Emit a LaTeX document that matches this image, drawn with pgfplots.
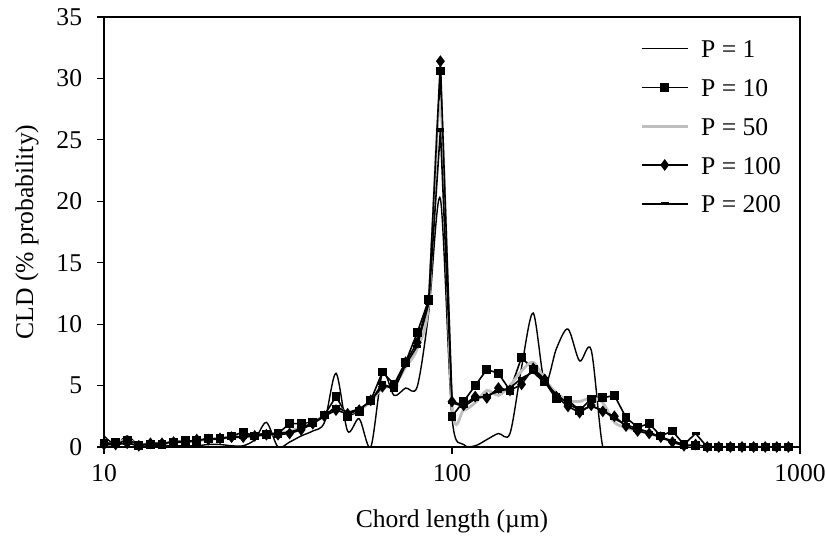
\documentclass[border=0pt]{standalone}
\usepackage{fontspec}
\setmainfont{Liberation Serif}
\usepackage{pgfplots}
\usepackage{pgfplotstable}
\pgfplotsset{compat=1.18}

\pgfplotstableread{
x       p1    p10   p50   p100  p200
10.000  0.9   0.3   0.2   0.2   0.3
10.798  0.2   0.4   0.3   0.2   0.2
11.659  0.9   0.5   0.6   0.3   0.6
12.589  0.1   0.1   0.2   0.1   0.2
13.594  0.1   0.2   0.3   0.3   0.2
14.678  0.1   0.2   0.3   0.3   0.2
15.849  0.1   0.4   0.4   0.4   0.5
17.113  0.1   0.5   0.4   0.4   0.4
18.478  0.1   0.5   0.5   0.6   0.5
19.953  0.2   0.7   0.6   0.6   0.7
21.544  0.2   0.7   0.7   0.7   0.6
23.263  0.1   0.9   0.8   0.8   0.9
25.119  0.1   1.2   0.8   0.8   0.8
27.123  0.6   0.9   0.9   0.9   1.0
29.286  2.0   1.0   1.0   1.0   1.1
31.623  0.0   1.1   1.1   1.0   1.1
34.146  0.4   1.9   1.3   1.1   1.2
36.869  0.9   1.9   1.6   1.4   1.5
39.811  1.3   2.0   2.0   1.9   2.0
42.987  2.0   2.6   2.5   2.5   2.5
46.416  6.0   4.1   3.2   3.0   3.3
50.119  1.3   2.5   2.8   2.7   2.8
54.117  2.3   2.9   3.0   3.0   3.1
58.434  0.0   3.8   3.7   3.8   3.7
63.096  6.0   6.1   4.8   4.9   5.2
68.129  4.2   5.1   5.0   5.0   4.6
73.564  4.8   6.9   6.5   6.9   6.7
79.433  4.9   9.3   8.0   8.5   8.2
85.770  11.0  12.0  11.8  12.0  11.7
92.612  20.2  30.6  28.0  31.4  25.8
100.00  2.4   2.5   3.5   3.7   3.6
107.98  0.2   3.7   3.0   3.4   3.3
116.59  0.1   5.0   3.6   4.1   3.9
125.89  0.6   6.3   4.6   4.0   4.2
135.94  1.1   6.0   4.2   4.8   4.5
146.78  1.1   4.6   5.0   4.6   4.8
158.49  6.5   7.3   6.2   5.1   5.6
171.13  10.9  6.3   6.9   6.4   6.1
184.78  5.2   5.3   5.5   5.5   5.2
199.53  8.0   3.9   4.4   4.1   4.3
215.44  9.6   3.8   3.8   3.3   3.5
232.63  7.0   3.0   3.7   2.8   3.0
251.19  7.9   3.9   4.0   3.4   3.3
271.23  0.0   4.0   3.6   2.9   3.0
292.86  0.0   4.2   2.0   2.5   2.3
316.23  0.0   2.4   1.6   1.7   1.8
341.46  0.0   1.6   1.3   1.3   1.5
368.69  0.0   1.9   1.1   1.1   1.2
398.11  0.0   0.9   0.8   0.8   0.8
429.87  0.0   1.3   0.4   0.4   0.5
464.16  0.0   0.2   0.2   0.1   0.2
501.19  0.0   0.1   0.1   0.2   1.1
541.17  0.0   0.0   0.0   0.0   0.0
584.34  0.0   0.0   0.0   0.0   0.0
630.96  0.0   0.0   0.0   0.0   0.0
681.29  0.0   0.0   0.0   0.0   0.0
735.64  0.0   0.0   0.0   0.0   0.0
794.33  0.0   0.0   0.0   0.0   0.0
857.70  0.0   0.0   0.0   0.0   0.0
926.12  0.0   0.0   0.0   0.0   0.0
}\cld

\begin{document}
\fontsize{12.8}{15}\selectfont
\begin{tikzpicture}
\begin{axis}[
  scale only axis, width=348pt, height=215pt,
  xmode=log, xmin=10, xmax=1000, ymin=0, ymax=35,
  xtick={10,100,1000}, xticklabels={10,100,1000},
  xminorticks=false,
  ytick={0,5,...,35},
  tick align=outside, major tick length=3.5pt,
  tick pos=left,
  tick style={black, line width=0.6pt},
  axis line style={black, line width=0.7pt},
  /pgf/number format/assume math mode=true,
  ticklabel style={font=\fontsize{12.8}{15}\selectfont},
  yticklabel style={xshift=-3pt},
  xticklabel style={yshift=-1pt},
  xlabel={Chord length (µm)},
  xlabel style={font=\fontsize{12.8}{15}\selectfont, at={(axis description cs:0.5,0)}, anchor=center, yshift=-37pt},
  legend style={draw=none, fill=none, at={(rel axis cs:0.77,0.953)}, anchor=north west,
    inner sep=0pt, row sep=8.4pt, font=\fontsize{12.8}{15}\selectfont,
    nodes={inner sep=1pt, text height=9pt, text depth=0pt}},
  legend cell align=left,
  legend image code/.code={\draw[#1, mark repeat=2, mark phase=2] plot coordinates {(0pt,0pt) (11.5pt,0pt) (23pt,0pt)}; \path (28pt,0pt);},
  clip=true,
]
\coordinate (ll) at (rel axis cs:0,0);
\coordinate (ur) at (rel axis cs:1,1);
\coordinate (ml) at (rel axis cs:0,0.5);
\addplot[black, line width=0.7pt, smooth, no markers] table[x=x, y=p1] {\cld};
\addlegendentry{P = 1}
\addplot[black, line width=0.8pt, mark=square*, mark size=1.8pt] table[x=x, y=p10] {\cld};
\addlegendentry{P = 10}
\addplot[black!25, line width=1.4pt, smooth, no markers] table[x=x, y=p50] {\cld};
\addlegendentry{P = 50}
\addplot[black, line width=0.8pt, mark=diamond*, mark size=2.3pt] table[x=x, y=p100] {\cld};
\addlegendentry{P = 100}
\addplot[black, line width=0.8pt, mark=-, mark size=2pt, mark options={line width=1.6pt}] table[x=x, y=p200] {\cld};
\addlegendentry{P = 200}
\end{axis}
\node[rotate=90, font=\fontsize{12.8}{15}\selectfont, anchor=center] at ([xshift=-38.5pt]ml) {CLD (\% probability)};
\pgfresetboundingbox
\path ([xshift=-52pt,yshift=-45pt]ll) rectangle ([xshift=13pt,yshift=8.5pt]ur);
\end{tikzpicture}
\end{document}
